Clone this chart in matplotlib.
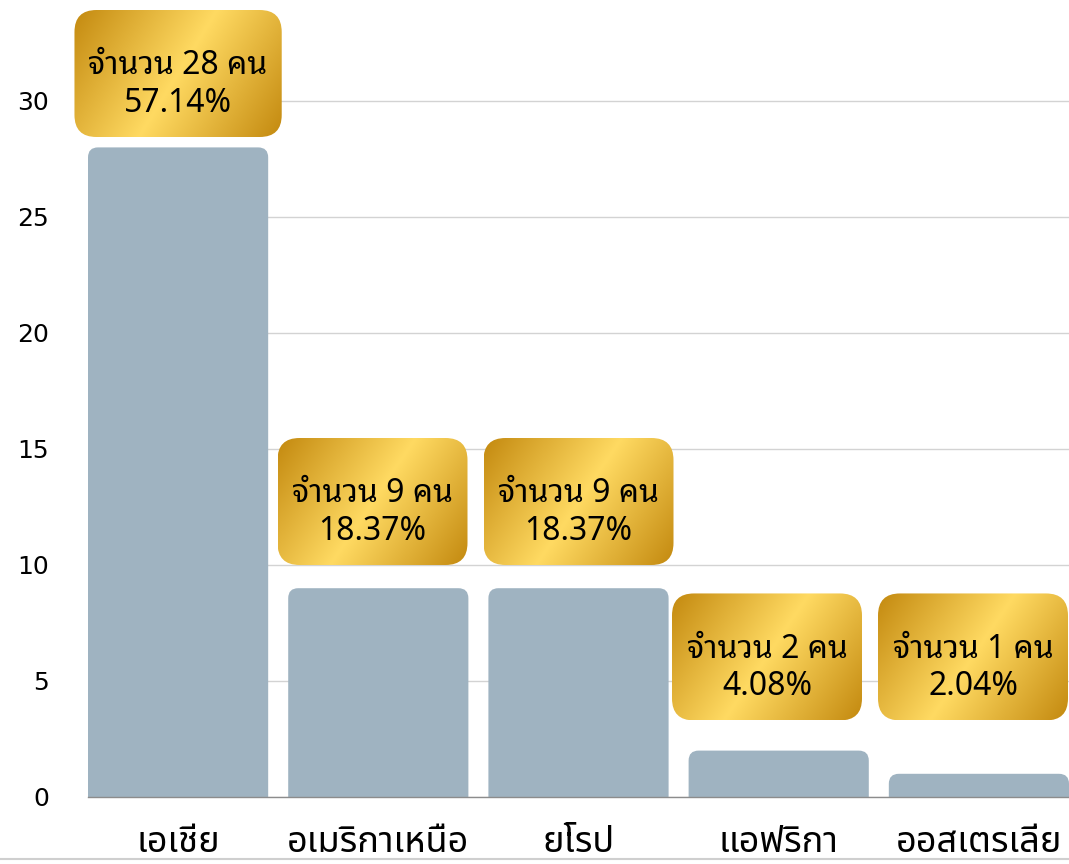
import numpy as np
import matplotlib
matplotlib.use('Agg')
import matplotlib.pyplot as plt
from matplotlib import font_manager
from matplotlib.ft2font import FT2Font
from matplotlib.patches import FancyBboxPatch
from matplotlib.colors import LinearSegmentedColormap
from matplotlib.lines import Line2D

# data
regions = ['เอเชีย', 'อเมริกาเหนือ', 'ยโรป', 'แอฟริกา', 'ออสเตรเลีย']
counts = [28, 9, 9, 2, 1]
percents = ['57.14%', '18.37%', '18.37%', '4.08%', '2.04%']
yticks = [0, 5, 10, 15, 20, 25, 30]


# find fonts that can draw Thai
def thai_fonts():
    found = {}
    for f in font_manager.fontManager.ttflist:
        if f.name in found:
            continue
        try:
            cmap = FT2Font(f.fname).get_charmap()
        except Exception:
            continue
        if 0x0E08 in cmap and 0x0E33 in cmap:
            found[f.name] = f.fname
    return found

tf = thai_fonts()

def pick(prefs):
    for p in prefs:
        if p in tf:
            return p
    return sorted(tf)[0] if tf else 'DejaVu Sans'

looped = pick(['Noto Sans Thai Looped', 'Noto Looped Thai', 'Tlwg Typo', 'Garuda',
               'Loma', 'Noto Sans Thai', 'Noto Sans Thai UI'])
loopless = pick(['Noto Sans Thai', 'Noto Sans Thai UI', 'Noto Sans Thai Looped'])
fam_box = [looped, 'DejaVu Sans']
fam_lab = [loopless, 'DejaVu Sans']

W, H = 1069, 864
fig = plt.figure(figsize=(W / 100, H / 100), dpi=100)
ax_l, ax_r, ax_b = 88, 1069, 864 - 797
ax = fig.add_axes([ax_l / W, ax_b / H, (ax_r - ax_l) / W, (H - ax_b) / H])

xmin, xmax = -0.45, 4.45
ppy = 23.2                      # pixels per y unit
ymax = (H - ax_b) / ppy
ppx = (ax_r - ax_l) / (xmax - xmin)

x = np.arange(len(regions))
bars = ax.bar(x, counts, width=0.9, color='#9FB3C1', zorder=2)

# rounded tops: replace the rectangles, extend below 0 so bottoms are clipped square
r_px = 10
for b in bars:
    bx, bw, bh = b.get_x(), b.get_width(), b.get_height()
    b.set_visible(False)
    rr = r_px / ppx
    fp = FancyBboxPatch((bx, -r_px / ppy * 2), bw, bh + r_px / ppy * 2,
                        boxstyle=f'round,pad=0,rounding_size={rr}',
                        mutation_aspect=ppx / ppy,
                        fc='#9FB3C1', ec='none', zorder=2)
    ax.add_patch(fp)

ax.set_xlim(xmin, xmax)
ax.set_ylim(0, ymax)
ax.set_yticks(yticks)
ax.yaxis.grid(True, color='#D3D3D3', lw=1)
ax.set_axisbelow(True)
for s in ['top', 'right', 'left']:
    ax.spines[s].set_visible(False)
ax.spines['bottom'].set_color('#8C8C8C')
ax.spines['bottom'].set_linewidth(1)
ax.tick_params(axis='y', length=0, pad=28, labelsize=18)
ax.tick_params(axis='x', length=0, pad=20, labelsize=26)
ax.set_xticks(x)
ax.set_xticklabels(regions, family=fam_lab)
for t in ax.get_yticklabels():
    t.set_family('DejaVu Sans')

# overlay in figure pixels for the gold label boxes
ov = fig.add_axes([0, 0, 1, 1], zorder=5)
ov.set_xlim(0, W)
ov.set_ylim(0, H)
ov.axis('off')

gold = LinearSegmentedColormap.from_list(
    'gold', [(0, '#C48A10'), (0.5, '#FFDA62'), (1, '#C48A10')])

box_h = 127
pad_x = 14
fs_box = 23
renderer = fig.canvas.get_renderer()

# measure the text widths first
widths = []
for c in counts:
    t = ov.text(0, 0, f'จำนวน {c} คน', family=fam_box, fontsize=fs_box)
    widths.append(t.get_window_extent(renderer).width + 2 * pad_x)
    t.remove()
widths = [max(w, 190) for w in widths]

# vertical place of each box (pixels from bottom)
bottoms, tops = [], []
for c in counts:
    bottom = ax.transData.transform((0, max(c + 1.0, 3.3)))[1]
    top = bottom + box_h
    if top > H - 10:
        bottom -= top - (H - 10)
        top = H - 10
    bottoms.append(bottom)
    tops.append(top)

# lefts, kept inside the figure and apart from boxes at the same height
cx = [ax.transData.transform((xi, 0))[0] for xi in x]
lefts = [c - w / 2 for c, w in zip(cx, widths)]
gap = 16
for i in range(len(x) - 1, -1, -1):
    right = lefts[i] + widths[i]
    limit = W - 1
    if i < len(x) - 1 and bottoms[i] < tops[i + 1] and bottoms[i + 1] < tops[i]:
        limit = lefts[i + 1] - gap
    if right > limit:
        lefts[i] -= right - limit

for i, c in enumerate(counts):
    bottom, top = bottoms[i], tops[i]
    x0, wp = lefts[i], widths[i]
    patch = FancyBboxPatch((x0, bottom), wp, box_h,
                           boxstyle='round,pad=0,rounding_size=22',
                           fc='none', ec='none', zorder=3)
    ov.add_patch(patch)
    gx, gy = np.meshgrid(np.linspace(0, wp, 120), np.linspace(0, box_h, 80))
    grad = (gx * wp + gy * box_h) / (wp ** 2 + box_h ** 2)
    im = ov.imshow(grad, extent=(x0, x0 + wp, bottom, top), origin='upper',
                   cmap=gold, vmin=0, vmax=1, aspect='auto', zorder=3,
                   interpolation='bicubic')
    im.set_clip_path(patch)
    mid = (bottom + top) / 2
    xc = x0 + wp / 2
    ov.text(xc, mid - 1, f'จำนวน {c} คน', family=fam_box, fontsize=fs_box,
            ha='center', va='baseline', zorder=4, color='black')
    ov.text(xc, mid - 38, percents[i], family=fam_box, fontsize=fs_box,
            ha='center', va='baseline', zorder=4, color='black')

ov.set_xlim(0, W)
ov.set_ylim(0, H)

fig.add_artist(Line2D([0, 1], [(H - 859) / H] * 2, transform=fig.transFigure,
                      color='#CFCFCF', lw=1.5))

fig.savefig('out.png', dpi=100)
